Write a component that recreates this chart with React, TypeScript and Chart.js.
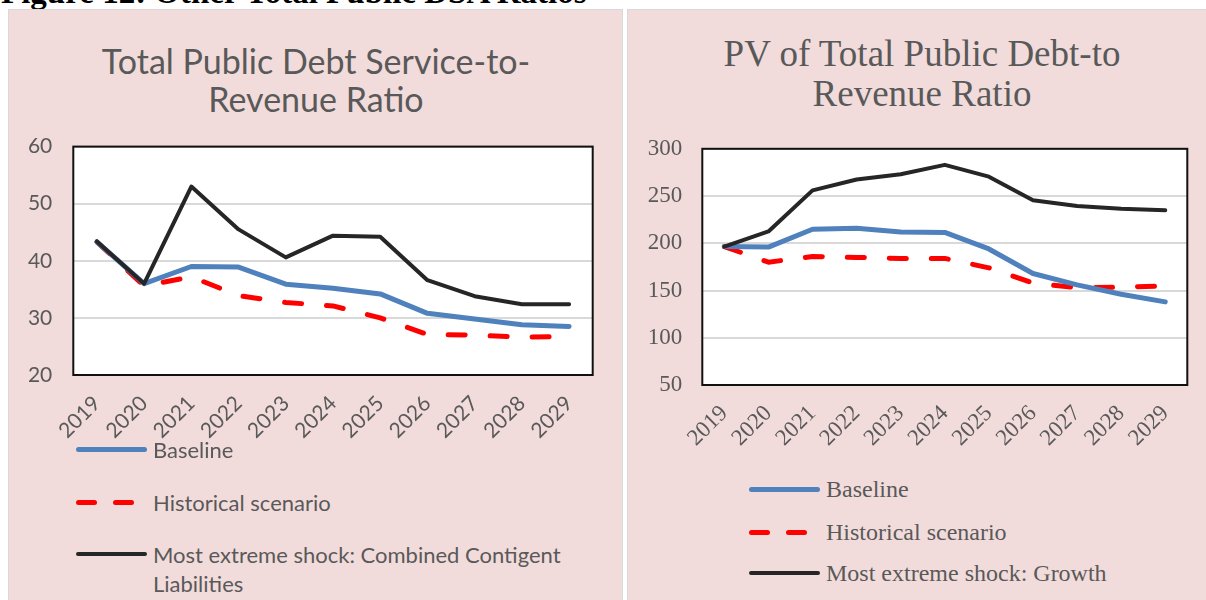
import React, { useEffect, useRef } from "react";
import { Chart, registerables } from "chart.js";

Chart.register(...registerables);

// ---------- data ----------
const years = ["2019", "2020", "2021", "2022", "2023", "2024", "2025", "2026", "2027", "2028", "2029"];

const serviceBaseline = [43.3, 36.0, 39.0, 38.9, 35.9, 35.2, 34.2, 30.8, 29.8, 28.8, 28.5];
const serviceHistorical = [43.3, 35.6, 37.2, 33.9, 32.7, 32.1, 30.0, 27.1, 27.0, 26.6, 26.8];
const serviceShock = [43.4, 36.0, 53.0, 45.5, 40.6, 44.4, 44.2, 36.6, 33.8, 32.4, 32.4];
const serviceTicks = [20, 30, 40, 50, 60];

const pvBaseline = [196.5, 196, 214.8, 216, 212, 211.5, 194, 168, 156, 146, 138];
const pvHistorical = [196.5, 180, 186, 185, 184, 184, 174, 158, 153, 153.5, 155];
const pvShock = [196.5, 212.5, 256, 267.5, 273, 283, 270.5, 245.5, 239.5, 236.5, 235];
const pvTicks = [50, 100, 150, 200, 250, 300];

const seriesNames = ["Baseline", "Historical scenario"];
const leftShockName = "Most extreme shock: Combined Contigent Liabilities";
const rightShockName = "Most extreme shock: Growth";

const leftTitle = ["Total Public Debt Service-to-", "Revenue Ratio"];
const rightTitle = ["PV of Total Public Debt-to", "Revenue Ratio"];
const figureTitle = "Figure 12: Other Total Public DSA Ratios";

// ---------- styles ----------
const PINK = "#F2DCDB";
const GRAY_TEXT = "#595959";
const BLUE = "#4F81BD";
const RED = "#FF0000";
const BLACK = "#262626";
const SANS = "Lato, 'Open Sans', sans-serif";
const SERIF = "'Liberation Serif', 'Times New Roman', serif";

const plotFrame = {
  id: "plotFrame",
  beforeDraw(chart: any) {
    const { ctx, chartArea: a } = chart;
    ctx.save();
    ctx.fillStyle = "#FFFFFF";
    ctx.fillRect(a.left, a.top, a.right - a.left, a.bottom - a.top);
    ctx.restore();
  },
  afterDraw(chart: any) {
    const { ctx, chartArea: a } = chart;
    ctx.save();
    ctx.strokeStyle = "#111111";
    ctx.lineWidth = 2;
    ctx.strokeRect(a.left, a.top, a.right - a.left, a.bottom - a.top);
    ctx.restore();
  },
};

type ChartSpec = {
  width: number;
  height: number;
  base: number[];
  hist: number[];
  shock: number[];
  ticks: number[];
  font: string;
  tickSize: number;
  yAxisWidth: number;
  xAxisHeight: number;
  padding: { left: number; right: number; top: number; bottom: number };
  yPad: number;
  xPad: number;
  shockName: string;
};

function LineChart(props: ChartSpec) {
  const ref = useRef<HTMLCanvasElement | null>(null);
  useEffect(() => {
    if (!ref.current) return;
    const p = props;
    const min = p.ticks[0];
    const max = p.ticks[p.ticks.length - 1];
    const step = p.ticks[1] - p.ticks[0];
    const chart = new Chart(ref.current, {
      type: "line",
      data: {
        labels: years,
        datasets: [
          {
            label: seriesNames[0],
            data: p.base,
            borderColor: BLUE,
            borderWidth: 5,
            borderCapStyle: "round",
            borderJoinStyle: "round",
            pointRadius: 0,
            tension: 0,
            order: 2,
          },
          {
            label: seriesNames[1],
            data: p.hist,
            borderColor: RED,
            borderWidth: 5,
            borderDash: [17, 25],
            borderCapStyle: "round",
            borderJoinStyle: "round",
            pointRadius: 0,
            tension: 0,
            order: 3,
          },
          {
            label: p.shockName,
            data: p.shock,
            borderColor: BLACK,
            borderWidth: 4,
            borderCapStyle: "round",
            borderJoinStyle: "round",
            pointRadius: 0,
            tension: 0,
            order: 1,
          },
        ],
      },
      options: {
        animation: false,
        responsive: false,
        devicePixelRatio: 1,
        layout: { padding: p.padding },
        plugins: {
          legend: { display: false },
          title: { display: false },
          tooltip: { enabled: false },
        },
        scales: {
          x: {
            offset: true,
            grid: { display: false, drawTicks: false },
            border: { display: false },
            ticks: {
              autoSkip: false,
              minRotation: 45,
              maxRotation: 45,
              padding: p.xPad,
              color: GRAY_TEXT,
              font: { family: p.font, size: p.tickSize },
            },
            afterFit(scale: any) {
              scale.height = p.xAxisHeight;
            },
          },
          y: {
            min,
            max,
            grid: { color: "#D9D9D9", lineWidth: 2, drawTicks: false },
            border: { display: false },
            ticks: {
              stepSize: step,
              padding: p.yPad,
              color: GRAY_TEXT,
              font: { family: p.font, size: p.tickSize },
            },
            afterFit(scale: any) {
              scale.width = p.yAxisWidth;
            },
          },
        },
      },
      plugins: [plotFrame],
    } as any);
    return () => chart.destroy();
  }, []);
  return <canvas ref={ref} width={props.width} height={props.height} style={{ display: "block" }} />;
}

function SolidSample({ color, w }: { color: string; w: number }) {
  return <div style={{ width: 71, height: w, borderRadius: w / 2, background: color }} />;
}

function DashSample({ color }: { color: string }) {
  return (
    <div style={{ width: 71, height: 5, position: "relative" }}>
      <div style={{ position: "absolute", left: 0, width: 21, height: 5, borderRadius: 3, background: color }} />
      <div style={{ position: "absolute", left: 37, width: 21, height: 5, borderRadius: 3, background: color }} />
    </div>
  );
}

function LegendRow({ left, y, sample, text, font, size, textLeft, width, lh }: any) {
  return (
    <div style={{ position: "absolute", left, top: y - 3, width: 80 }}>
      {sample}
      <div
        style={{
          position: "absolute",
          left: textLeft,
          top: -lh / 2 + 2,
          width,
          font: `${size}px ${font}`,
          lineHeight: `${lh}px`,
          color: GRAY_TEXT,
          whiteSpace: "normal",
        }}
      >
        {text}
      </div>
    </div>
  );
}

export default function App() {
  useEffect(() => {
    document.body.style.margin = "0";
  }, []);
  return (
    <div
      style={{
        position: "fixed",
        left: 0,
        top: 0,
        width: 1206,
        height: 600,
        overflow: "hidden",
        background: "#FFFFFF",
      }}
    >
      {/* figure heading, clipped at the top as in the source */}
      <div
        style={{
          position: "absolute",
          left: 1,
          top: -24,
          font: `bold 33px ${SERIF}`,
          lineHeight: "33px",
          color: "#000",
          whiteSpace: "nowrap",
        }}
      >
        {figureTitle}
      </div>

      {/* left panel */}
      <div
        style={{
          position: "absolute",
          left: 8,
          top: 9,
          width: 613,
          height: 620,
          background: PINK,
          border: "1px solid #D9D9D9",
        }}
      />
      <div
        style={{
          position: "absolute",
          left: 9,
          top: 42,
          width: 614,
          textAlign: "center",
          font: `34px ${SANS}`,
          lineHeight: "38px",
          color: GRAY_TEXT,
          whiteSpace: "nowrap",
        }}
      >
        {leftTitle[0]}
        <br />
        {leftTitle[1]}
      </div>
      <div style={{ position: "absolute", left: 9, top: 113 }}>
        <LineChart
          width={614}
          height={327}
          base={serviceBaseline}
          hist={serviceHistorical}
          shock={serviceShock}
          ticks={serviceTicks}
          font={SANS}
          tickSize={21}
          yAxisWidth={50}
          xAxisHeight={65}
          padding={{ left: 14.3, right: 30.3, top: 0, bottom: 0 }}
          yPad={21}
          xPad={16}
          shockName={leftShockName}
        />
      </div>
      <LegendRow left={76} y={450} sample={<SolidSample color={BLUE} w={5} />} text={seriesNames[0]} font={SANS} size={22} lh={29} textLeft={77} width={450} />
      <LegendRow left={76} y={503} sample={<DashSample color={RED} />} text={seriesNames[1]} font={SANS} size={22} lh={29} textLeft={77} width={450} />
      <LegendRow left={76} y={555} sample={<SolidSample color={BLACK} w={4} />} text={leftShockName} font={SANS} size={22} lh={29} textLeft={77} width={440} />

      {/* right panel */}
      <div
        style={{
          position: "absolute",
          left: 627,
          top: 9,
          width: 600,
          height: 620,
          background: PINK,
          border: "1px solid #D9D9D9",
        }}
      />
      <div
        style={{
          position: "absolute",
          left: 628,
          top: 34,
          width: 588,
          textAlign: "center",
          font: `37px ${SERIF}`,
          lineHeight: "40px",
          color: GRAY_TEXT,
          whiteSpace: "nowrap",
        }}
      >
        {rightTitle[0]}
        <br />
        {rightTitle[1]}
      </div>
      <div style={{ position: "absolute", left: 628, top: 115 }}>
        <LineChart
          width={578}
          height={335}
          base={pvBaseline}
          hist={pvHistorical}
          shock={pvShock}
          ticks={pvTicks}
          font={SERIF}
          tickSize={23}
          yAxisWidth={55}
          xAxisHeight={65}
          padding={{ left: 19.3, right: 18.7, top: 0, bottom: 0 }}
          yPad={20}
          xPad={15}
          shockName={rightShockName}
        />
      </div>
      <LegendRow left={749} y={490} sample={<SolidSample color={BLUE} w={5} />} text={seriesNames[0]} font={SERIF} size={24} lh={30} textLeft={77} width={420} />
      <LegendRow left={749} y={533} sample={<DashSample color={RED} />} text={seriesNames[1]} font={SERIF} size={24} lh={30} textLeft={77} width={420} />
      <LegendRow left={749} y={574} sample={<SolidSample color={BLACK} w={4} />} text={rightShockName} font={SERIF} size={24} lh={30} textLeft={77} width={420} />
    </div>
  );
}
